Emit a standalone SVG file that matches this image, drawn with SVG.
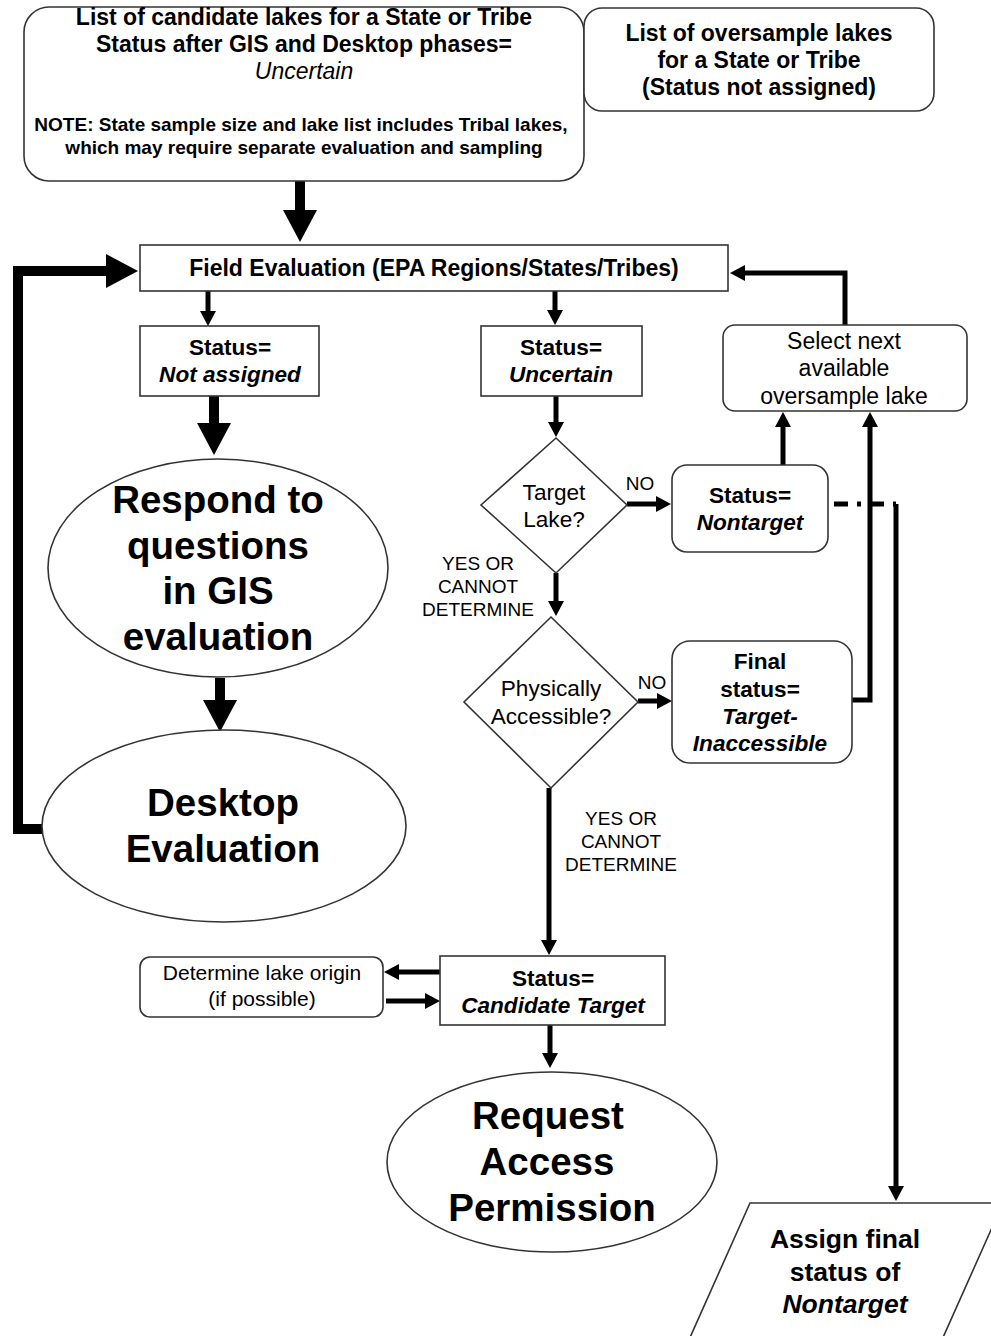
<svg xmlns="http://www.w3.org/2000/svg" width="991" height="1336" viewBox="0 0 991 1336">
<defs>
<style>
text{font-family:"Liberation Sans",Arial,Helvetica,sans-serif;fill:#000;text-anchor:middle}
.b{font-weight:bold}
.i{font-style:italic}
.shape{fill:#fff;stroke:#333;stroke-width:1.6}
.thick{fill:none;stroke:#000;stroke-width:10}
.med{fill:none;stroke:#000;stroke-width:5}
.f22{font-size:22.6px}
.f23{font-size:23px}
.f19{font-size:19px}
.f37{font-size:38.5px;font-weight:bold}
</style>
<marker id="bigHead" markerUnits="userSpaceOnUse" viewBox="0 0 32 34" markerWidth="32" markerHeight="34" refX="1" refY="17" orient="auto"><path d="M0,0 L32,17 L0,34 z" fill="#000"/></marker>
<marker id="medHead" markerUnits="userSpaceOnUse" viewBox="0 0 15 16" markerWidth="15" markerHeight="16" refX="1" refY="8" orient="auto"><path d="M0,0 L15,8 L0,16 z" fill="#000"/></marker>
</defs>
<rect width="991" height="1336" fill="#fff"/>

<g id="connectors">
<path class="thick" d="M300,181 V211" marker-end="url(#bigHead)"/>
<path class="thick" d="M42,829 H18 V271 H107" marker-end="url(#bigHead)"/>
<path class="med" d="M208,291 V312" marker-end="url(#medHead)"/>
<path class="med" d="M555,291 V311" marker-end="url(#medHead)"/>
<path class="thick" d="M214,396 V424" marker-end="url(#bigHead)"/>
<path class="thick" d="M220,678 V701" marker-end="url(#bigHead)"/>
<path class="med" d="M556,396 V423" marker-end="url(#medHead)"/>
<path class="med" d="M627,504 H657" marker-end="url(#medHead)"/>
<path class="med" d="M783,465 V426" marker-end="url(#medHead)"/>
<path class="med" d="M845,325 V273 H744" marker-end="url(#medHead)"/>
<path class="med" d="M852,700 H870 V426" marker-end="url(#medHead)"/>
<path class="med" d="M834,504 H896" stroke-dasharray="14,9,4,9"/>
<path class="med" d="M896,504 V1187" marker-end="url(#medHead)"/>
<path class="med" d="M556,573 V602" marker-end="url(#medHead)"/>
<path class="med" d="M638,701 H658" marker-end="url(#medHead)"/>
<path class="med" d="M549,788 V941" marker-end="url(#medHead)"/>
<path class="med" d="M440,972 H398" marker-end="url(#medHead)"/>
<path class="med" d="M386,1001 H426" marker-end="url(#medHead)"/>
<path class="med" d="M550,1025 V1054" marker-end="url(#medHead)"/>
<text class="f19" x="640" y="490">NO</text>
<text class="f19" x="652" y="689">NO</text>
<text class="f19" x="478" y="570">YES OR</text>
<text class="f19" x="478" y="593">CANNOT</text>
<text class="f19" x="478" y="616">DETERMINE</text>
<text class="f19" x="621" y="825">YES OR</text>
<text class="f19" x="621" y="848">CANNOT</text>
<text class="f19" x="621" y="871">DETERMINE</text>
</g>

<g id="candidate-list">
<rect class="shape" x="24" y="7" width="560" height="174" rx="25"/>
<text class="b f23" x="304" y="25">List of candidate lakes for a State or Tribe</text>
<text class="b f23" x="304" y="52">Status after GIS and Desktop phases=</text>
<text class="i f23" x="304" y="79">Uncertain</text>
<text class="b" font-size="19" x="301" y="131">NOTE: State sample size and lake list includes Tribal lakes,</text>
<text class="b" font-size="19" x="304" y="154">which may require separate evaluation and sampling</text>
</g>

<g id="oversample-list">
<rect class="shape" x="584" y="8" width="350" height="103" rx="18"/>
<text class="b f23" x="759" y="41">List of oversample lakes</text>
<text class="b f23" x="759" y="68">for a State or Tribe</text>
<text class="b f23" x="759" y="95">(Status not assigned)</text>
</g>

<g id="field-evaluation">
<rect class="shape" x="140" y="245" width="588" height="46"/>
<text class="b f23" x="434" y="276">Field Evaluation (EPA Regions/States/Tribes)</text>
</g>

<g id="status-not-assigned">
<rect class="shape" x="140" y="326" width="179" height="70"/>
<text class="b f22" x="230" y="355">Status=</text>
<text class="b i f22" x="230" y="382">Not assigned</text>
</g>

<g id="status-uncertain">
<rect class="shape" x="481" y="326" width="161" height="70"/>
<text class="b f22" x="561" y="355">Status=</text>
<text class="b i f22" x="561" y="382">Uncertain</text>
</g>

<g id="gis-questions">
<ellipse class="shape" cx="218" cy="568" rx="170" ry="109"/>
<text class="f37" x="218" y="513">Respond to</text>
<text class="f37" x="218" y="559">questions</text>
<text class="f37" x="218" y="604">in GIS</text>
<text class="f37" x="218" y="650">evaluation</text>
</g>

<g id="desktop-evaluation">
<ellipse class="shape" cx="224" cy="826" rx="182" ry="96"/>
<text class="f37" x="223" y="816">Desktop</text>
<text class="f37" x="223" y="862">Evaluation</text>
</g>

<g id="target-lake">
<polygon class="shape" points="556,438 627,505 556,573 481,505"/>
<text class="f22" x="554" y="500">Target</text>
<text class="f22" x="554" y="527">Lake?</text>
</g>

<g id="status-nontarget">
<rect class="shape" x="672" y="465" width="156" height="87" rx="15"/>
<text class="b f22" x="750" y="503">Status=</text>
<text class="b i f22" x="750" y="530">Nontarget</text>
</g>

<g id="select-next">
<rect class="shape" x="723" y="325" width="244" height="86" rx="12"/>
<text class="f23" x="844" y="349">Select next</text>
<text class="f23" x="844" y="376">available</text>
<text class="f23" x="844" y="404">oversample lake</text>
</g>

<g id="physically-accessible">
<polygon class="shape" points="551,617 638,702 551,788 464,702"/>
<text class="f22" x="551" y="696">Physically</text>
<text class="f22" x="551" y="724">Accessible?</text>
</g>

<g id="target-inaccessible">
<rect class="shape" x="672" y="641" width="180" height="122" rx="18"/>
<text class="b f22" x="760" y="669">Final</text>
<text class="b f22" x="760" y="697">status=</text>
<text class="b i f22" x="760" y="724">Target-</text>
<text class="b i f22" x="760" y="751">Inaccessible</text>
</g>

<g id="candidate-target">
<rect class="shape" x="440" y="956" width="225" height="69"/>
<text class="b f22" x="553" y="986">Status=</text>
<text class="b i f22" x="553" y="1013">Candidate Target</text>
</g>

<g id="lake-origin">
<rect class="shape" x="140" y="957" width="243" height="60" rx="10"/>
<text font-size="21" x="262" y="980">Determine lake origin</text>
<text font-size="21" x="262" y="1006">(if possible)</text>
</g>

<g id="request-access">
<ellipse class="shape" cx="552" cy="1162" rx="165" ry="90"/>
<text class="f37" x="548" y="1129">Request</text>
<text class="f37" x="547" y="1175">Access</text>
<text class="f37" x="552" y="1221">Permission</text>
</g>

<g id="assign-nontarget">
<polygon class="shape" points="750,1203 1003,1203 941,1342 688,1342"/>
<text class="b" font-size="26.5" x="845" y="1248">Assign final</text>
<text class="b" font-size="26.5" x="845" y="1281">status of</text>
<text class="b i" font-size="26.5" x="845" y="1313">Nontarget</text>
</g>
</svg>
